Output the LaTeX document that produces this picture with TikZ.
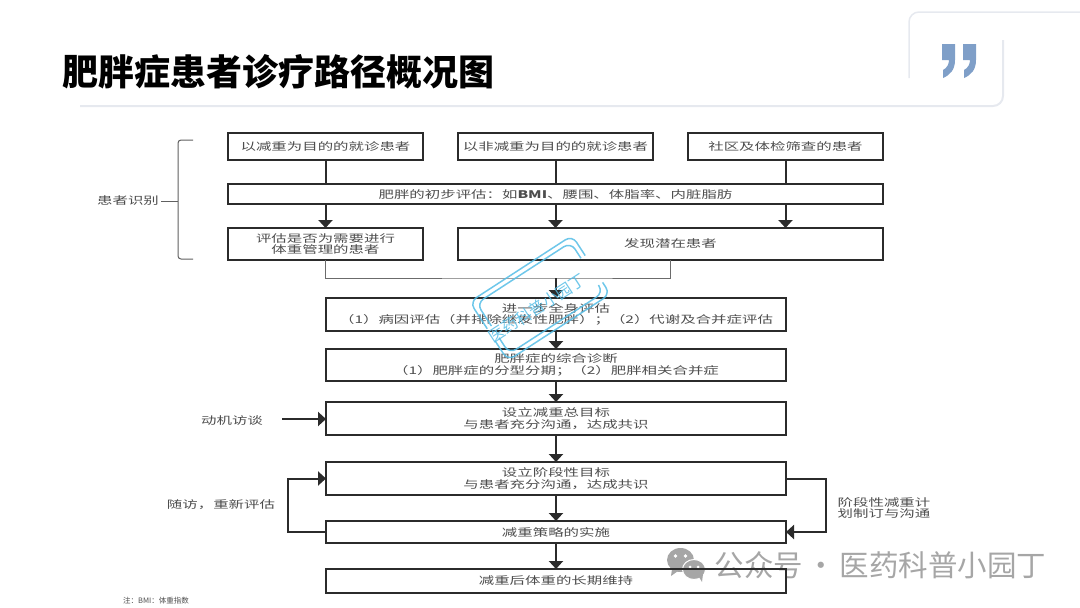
\documentclass[tikz,border=0pt]{standalone}
\usepackage{xcolor}
\usepackage{fontspec}
\usepackage{tikz}
\usetikzlibrary{arrows.meta, positioning}
\newfontfamily\cjk{Noto Sans CJK SC}
\newfontfamily\boxfont{Noto Sans CJK SC}[FakeStretch=1.47]
\definecolor{boxline}{HTML}{2B2B2B}
\definecolor{boxtext}{HTML}{4D4D4D}
\definecolor{frameline}{HTML}{E6E9EF}
\definecolor{quotemark}{HTML}{7F9FC8}
\definecolor{stamp}{HTML}{55BDE6}
\definecolor{markgray}{HTML}{A6A6A6}
\tikzset{
  box/.style={
    rectangle, draw=boxline, line width=1.8pt,
    inner sep=0pt, outer sep=0pt, align=center,
    text=boxtext, font=\boxfont\fontsize{10.5}{11.5}\selectfont,
  },
  topbox/.style={box, minimum width=195pt, minimum height=27pt},
  widebox/.style={box, minimum width=460pt, minimum height=33pt},
  sidetext/.style={
    align=center, inner sep=0pt,
    text=boxtext, font=\boxfont\fontsize{10.5}{11.5}\selectfont,
  },
  link/.style={line width=2pt, color=boxline},
  merge/.style={line width=1pt, color=boxline!70},
  arrow/.style={-{Triangle[length=8pt, width=14pt]}, line width=2pt, color=boxline},
  bracket/.style={line width=1pt, color=boxline!75, rounded corners=3pt},
  stampline/.style={line width=1.5pt, color=stamp, rounded corners=8pt},
}
\begin{document}
\begin{tikzpicture}[x=1pt, y=-1pt]

  \useasboundingbox (0,0) rectangle (1080,608);

  % header
  \draw[frameline, line width=2pt, rounded corners=10pt] (80,106) -- (1003,106) -- (1003,40);
  \draw[frameline, line width=1.5pt, rounded corners=10pt] (909,78) -- (909,12) -- (1080,12);
  \foreach \qx in {0,21} {
    \fill[quotemark, xshift=\qx pt] (942,44) -- (955,44) -- (955,60)
      .. controls (955,70) and (950,75) .. (943,78) -- (943,70)
      .. controls (947,68) and (949,64) .. (949,60) -- (942,60) -- cycle;
  }
  \node[anchor=west, inner sep=0pt, font=\cjk\bfseries\fontsize{36}{36}\selectfont] (title) at (62,72) {肥胖症患者诊疗路径概况图};

  % account mark, under the boxes
  \fill[markgray] (680.5,560) ellipse (13.5pt and 12pt);
  \fill[markgray] (672,569) -- (671,576) -- (678,571) -- cycle;
  \fill[white] (675.5,556) circle (1.8pt) (685.5,556) circle (1.8pt);
  \fill[markgray, draw=white, line width=1pt] (694,569.5) ellipse (11.5pt and 10pt);
  \fill[markgray] (699,577) -- (702,582) -- (703,574) -- cycle;
  \fill[white] (690,567) circle (1.5pt) (698,567) circle (1.5pt);
  \node[text=markgray, inner sep=0pt, font=\cjk\fontsize{29.5}{29.5}\selectfont] (account) at (880.5,565) {公众号\hskip3.5pt·\hskip3.5pt医药科普小园丁};

  \node[topbox] (lose) at (325.5,146.5) {以减重为目的的就诊患者};
  \node[topbox, right=35pt of lose] (other) {以非减重为目的的就诊患者};
  \node[topbox, right=35pt of other] (screen) {社区及体检筛查的患者};
  \node[box, minimum width=655pt, minimum height=20pt, below=24pt of other] (init) {肥胖的初步评估：如\textbf{BMI}、腰围、体脂率、内脏脂肪};
  \node[topbox, minimum height=32pt, below=68pt of lose] (assess) {评估是否为需要进行\\体重管理的患者};
  \node[box, minimum width=425pt, minimum height=32pt, right=35pt of assess] (potential) {发现潜在患者};
  \node[widebox] (full) at (556,314.5) {进一步全身评估\\（1）病因评估（并排除继发性肥胖）；（2）代谢及合并症评估};
  \node[widebox, minimum height=32pt, below=18pt of full] (diag) {肥胖症的综合诊断\\（1）肥胖症的分型分期；（2）肥胖相关合并症};
  \node[widebox, below=21pt of diag] (goal) {设立减重总目标\\与患者充分沟通，达成共识};
  \node[widebox, below=27pt of goal] (stage) {设立阶段性目标\\与患者充分沟通，达成共识};
  \node[widebox, minimum height=22pt, below=26pt of stage] (impl) {减重策略的实施};
  \node[widebox, minimum height=24pt, below=26pt of impl] (keep) {减重后体重的长期维持};

  \node[sidetext] (identify) at (128,201) {患者识别};
  \node[sidetext] (motive) at (232,421) {动机访谈};
  \node[sidetext] (revisit) at (221,505) {随访，重新评估};
  \node[sidetext] (plan) at (884,508) {阶段性减重计\\划制订与沟通};
  \node[anchor=west, inner sep=0pt, text=boxtext, font=\cjk\fontsize{7.5}{7.5}\selectfont] (note) at (123,601) {注：BMI：体重指数};

  \coordinate (tip) at (178,201);
  \coordinate (mergeup) at (556,278);
  \coordinate (motivestart) at (282,419);
  \coordinate (backleft) at (288,505);
  \coordinate (backright) at (826,505);

  % brace of the first three rows
  \draw[bracket] (193,140) -- (178,140) -- (178,259) -- (193,259);
  \draw[bracket] (identify.east) ++(2,0) -- (tip);

  \draw[link] (lose) -- (lose |- init.north);
  \draw[link] (other) -- (other |- init.north);
  \draw[link] (screen) -- (screen |- init.north);
  \draw[arrow] (lose |- init.south) -- (assess);
  \draw[arrow] (other |- init.south) -- (other |- potential.north);
  \draw[arrow] (screen |- init.south) -- (screen |- potential.north);

  \draw[merge] (assess) |- (mergeup) -| (potential);
  \draw[arrow] (mergeup) -- (full);
  \draw[arrow] (full) -- (diag);
  \draw[arrow] (diag) -- (goal);
  \draw[arrow] (goal) -- (stage);
  \draw[arrow] (stage) -- (impl);
  \draw[arrow] (impl) -- (keep);

  \draw[arrow] (motivestart) -- (motivestart -| goal.west);
  \draw[arrow] (impl.west) -| (backleft) |- (stage.west);
  \draw[arrow] (stage.east) -| (backright) |- (impl.east);

  % stamp over the middle
  \begin{scope}[shift={(540,298)}, rotate=33, opacity=.85]
    \draw[stampline] (-61,-3) -- (-61,-35) -- (61,-35) -- (61,-11);
    \draw[stampline] (61,21) -- (61,35) -- (-61,35) -- (-61,11);
    \draw[stampline] (-56,-3) -- (-56,-30) -- (56,-30) -- (56,-11);
    \draw[stampline] (56,21) -- (56,30) -- (-56,30) -- (-56,11);
  \end{scope}
  \node[rotate=33, text=stamp, opacity=.85, inner sep=0pt, font=\cjk\fontsize{16}{16}\selectfont] (stamptext) at (537,308) {医药科普小园丁};

\end{tikzpicture}
\end{document}
